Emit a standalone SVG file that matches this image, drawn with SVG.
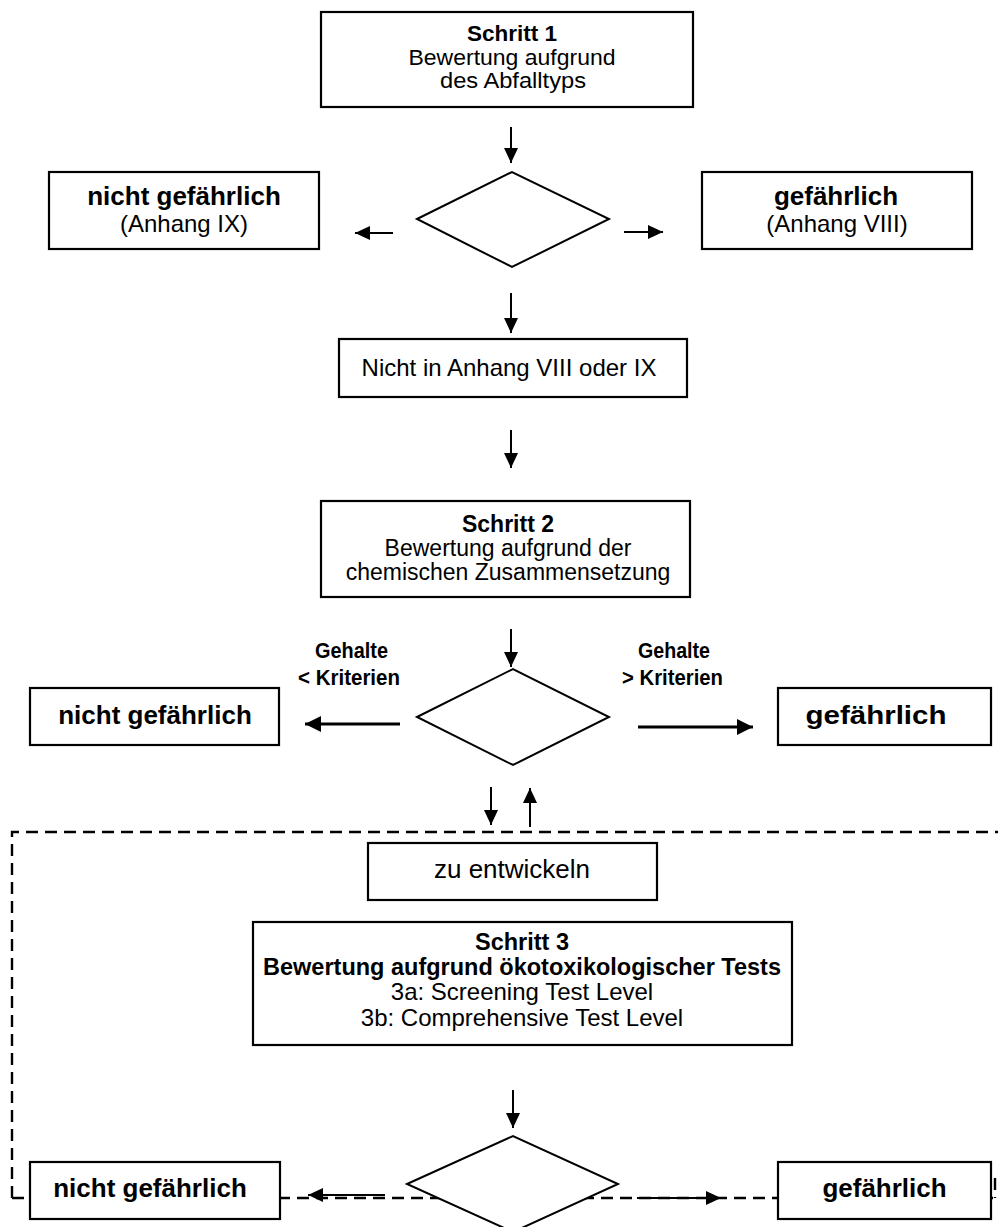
<svg xmlns="http://www.w3.org/2000/svg" width="998" height="1227" viewBox="0 0 998 1227">
<style>
.box{fill:#fff;stroke:#000;stroke-width:2.2}
.dia{fill:#fff;stroke:#000;stroke-width:2}
.t{font-family:"Liberation Sans",Arial,sans-serif;fill:#000;text-anchor:middle}
.b{font-weight:bold}
.n{font-family:"Liberation Sans Narrow","Liberation Sans",Arial,sans-serif;font-weight:bold;font-size:22px;fill:#000;text-anchor:middle}
.ar{stroke:#000;stroke-width:2;fill:none;marker-end:url(#ah)}
.ark{stroke:#000;stroke-width:3.2;fill:none;marker-end:url(#ahk)}
.ars{stroke:#000;stroke-width:2.2;fill:none;marker-end:url(#ah)}
.dash{stroke:#000;stroke-width:2.4;fill:none;stroke-dasharray:12 7}
</style>
<defs>
<marker id="ah" markerUnits="userSpaceOnUse" markerWidth="15" markerHeight="14" refX="15" refY="7" orient="auto"><path d="M0,0 L15,7 L0,14 z" fill="#000"/></marker>
<marker id="ahk" markerUnits="userSpaceOnUse" markerWidth="16" markerHeight="16" refX="16" refY="8" orient="auto"><path d="M0,0 L16,8 L0,16 z" fill="#000"/></marker>
</defs>
<g id="frame">
<path class="dash" d="M12,1198 V832 H998"/>
<path class="dash" d="M12,1198 H998"/>
<path class="dash" d="M995,1178 V1198"/>
</g>
<g id="connectors">
<line class="ar" x1="511" y1="127" x2="511" y2="163"/>
<line class="ar" x1="393" y1="233" x2="355" y2="233"/>
<line class="ar" x1="624" y1="232" x2="663" y2="232"/>
<line class="ar" x1="511" y1="293" x2="511" y2="333"/>
<line class="ar" x1="511" y1="430" x2="511" y2="468"/>
<line class="ar" x1="511" y1="629" x2="511" y2="667"/>
<line class="ark" x1="400" y1="724" x2="305" y2="724"/>
<line class="ark" x1="638" y1="727" x2="753" y2="727"/>
<line class="ar" x1="491" y1="787" x2="491" y2="825"/>
<line class="ar" x1="530" y1="827" x2="530" y2="788"/>
<line class="ar" x1="513" y1="1090" x2="513" y2="1128"/>
<line class="ars" x1="385" y1="1195" x2="308" y2="1195"/>
<line class="ars" x1="637" y1="1198" x2="721" y2="1198"/>
</g>
<g id="schritt1">
<rect class="box" x="321" y="12" width="372" height="95"/>
<text class="t b" x="512" y="41" font-size="22.5">Schritt 1</text>
<text class="t" x="512" y="65" font-size="22.5" textLength="207" lengthAdjust="spacingAndGlyphs">Bewertung aufgrund</text>
<text class="t" x="513" y="88" font-size="22.5" textLength="146" lengthAdjust="spacingAndGlyphs">des Abfalltyps</text>
</g>
<g id="decision1"><polygon class="dia" points="417,219 512,172 609,219 512,267"/></g>
<g id="nichtgef1">
<rect class="box" x="49" y="172" width="270" height="77"/>
<text class="t b" x="184" y="205" font-size="26">nicht gefährlich</text>
<text class="t" x="184" y="232" font-size="24">(Anhang IX)</text>
</g>
<g id="gef1">
<rect class="box" x="702" y="172" width="270" height="77"/>
<text class="t b" x="836" y="205" font-size="26">gefährlich</text>
<text class="t" x="837" y="232" font-size="24">(Anhang VIII)</text>
</g>
<g id="nichtin">
<rect class="box" x="339" y="339" width="348" height="58"/>
<text class="t" x="509" y="376" font-size="24">Nicht in Anhang VIII oder IX</text>
</g>
<g id="schritt2">
<rect class="box" x="321" y="501" width="369" height="96"/>
<text class="t b" x="508" y="532" font-size="23">Schritt 2</text>
<text class="t" x="508" y="556" font-size="23">Bewertung aufgrund der</text>
<text class="t" x="508" y="580" font-size="23">chemischen Zusammensetzung</text>
</g>
<g id="decision2"><polygon class="dia" points="417,717 513,669 609,717 513,765"/></g>
<g id="labels2">
<text class="n" x="351.5" y="658" textLength="73" lengthAdjust="spacingAndGlyphs">Gehalte</text>
<text class="n" x="349" y="685" textLength="102" lengthAdjust="spacingAndGlyphs">&lt; Kriterien</text>
<text class="n" x="674" y="658" textLength="72" lengthAdjust="spacingAndGlyphs">Gehalte</text>
<text class="n" x="672.5" y="685" textLength="101" lengthAdjust="spacingAndGlyphs">&gt; Kriterien</text>
</g>
<g id="nichtgef2">
<rect class="box" x="30" y="688" width="249" height="57"/>
<text class="t b" x="155" y="724" font-size="26">nicht gefährlich</text>
</g>
<g id="gef2">
<rect class="box" x="778" y="688" width="213" height="57"/>
<text class="t b" x="876" y="724" font-size="26" textLength="141" lengthAdjust="spacingAndGlyphs">gefährlich</text>
</g>
<g id="zuentwickeln">
<rect class="box" x="368" y="843" width="289" height="57"/>
<text class="t" x="512" y="878" font-size="26">zu entwickeln</text>
</g>
<g id="schritt3">
<rect class="box" x="253" y="922" width="539" height="123"/>
<text class="t b" x="522" y="950" font-size="23.5">Schritt 3</text>
<text class="t b" x="522" y="975" font-size="23.5">Bewertung aufgrund ökotoxikologischer Tests</text>
<text class="t" x="522" y="1000" font-size="24">3a: Screening Test Level</text>
<text class="t" x="522" y="1026" font-size="24">3b: Comprehensive Test Level</text>
</g>
<g id="decision3"><polygon class="dia" points="407,1184 513,1136 618,1184 513,1232"/></g>
<g id="nichtgef3">
<rect class="box" x="30" y="1162" width="250" height="57"/>
<text class="t b" x="150" y="1197" font-size="26">nicht gefährlich</text>
</g>
<g id="gef3">
<rect class="box" x="778" y="1162" width="213" height="57"/>
<text class="t b" x="884.5" y="1197" font-size="26">gefährlich</text>
</g>
</svg>
